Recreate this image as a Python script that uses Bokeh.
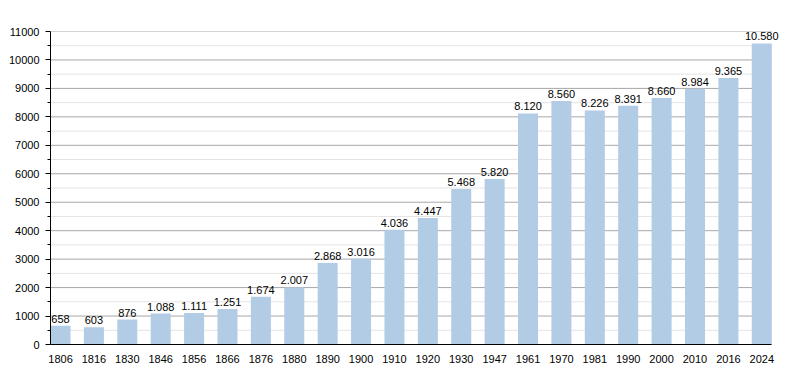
from bokeh.plotting import figure
from bokeh.models import ColumnDataSource, Range1d, FixedTicker, CustomJSTickFormatter
from bokeh.embed import file_html
from bokeh.resources import INLINE
from bokeh.core.properties import value

years = ["1806", "1816", "1830", "1846", "1856", "1866", "1876", "1880", "1890", "1900", "1910",
         "1920", "1930", "1947", "1961", "1970", "1981", "1990", "2000", "2010", "2016", "2024"]
population = [658, 603, 876, 1088, 1111, 1251, 1674, 2007, 2868, 3016, 4036,
              4447, 5468, 5820, 8120, 8560, 8226, 8391, 8660, 8984, 9365, 10580]
major_ticks = list(range(0, 11001, 1000))
minor_ticks = list(range(500, 11000, 1000))

xs = list(range(len(years)))
labels = [f"{v:,}".replace(",", ".") for v in population]
src = ColumnDataSource(dict(x=xs, top=population, label=labels))

x0, x1 = -0.3, len(years) - 1 + 0.3
p = figure(width=792, height=365, output_backend="svg", toolbar_location=None,
           x_range=Range1d(x0, x1 + 0.5), y_range=Range1d(0, 11000),
           min_border_left=50, min_border_right=4, min_border_top=31, min_border_bottom=21)
p.outline_line_color = None
p.xgrid.grid_line_color = None
p.ygrid.grid_line_color = None

# grid lines limited to the bar area
p.segment(x0=[x0] * len(minor_ticks), x1=[x1] * len(minor_ticks), y0=minor_ticks, y1=minor_ticks,
          line_color="#e4e4e4", line_width=1, level="underlay")
p.segment(x0=[x0] * len(major_ticks), x1=[x1] * len(major_ticks), y0=major_ticks, y1=major_ticks,
          line_color="#a8a8a8", line_width=1, level="underlay")

p.vbar(x="x", top="top", width=0.6, source=src, fill_color="#b3cce6", line_color=None)
p.text(x="x", y="top", text="label", source=src, text_align="center", text_baseline="bottom",
       y_offset=-3, text_font=value("Liberation Sans"), text_font_size="11px", text_color="#000000")

p.xaxis.ticker = FixedTicker(ticks=xs)
p.xaxis.formatter = CustomJSTickFormatter(args=dict(names=years), code="return names[Math.round(tick)];")
p.xaxis.major_tick_line_color = None
p.xaxis.minor_tick_line_color = None
p.xaxis.major_label_standoff = 4
p.xaxis.bounds = (x0, x1)

p.yaxis.ticker = FixedTicker(ticks=major_ticks, minor_ticks=minor_ticks)
p.yaxis.major_tick_out = 5
p.yaxis.major_tick_in = 0
p.yaxis.minor_tick_out = 3
p.yaxis.minor_tick_in = 0
p.yaxis.major_label_standoff = 6

for ax in (p.xaxis, p.yaxis):
    ax.axis_line_color = "#000000"
    ax.major_label_text_font = "Liberation Sans"
    ax.major_label_text_font_size = "11px"
    ax.major_label_text_color = "#000000"

open("out.html", "w").write(file_html(p, INLINE))
